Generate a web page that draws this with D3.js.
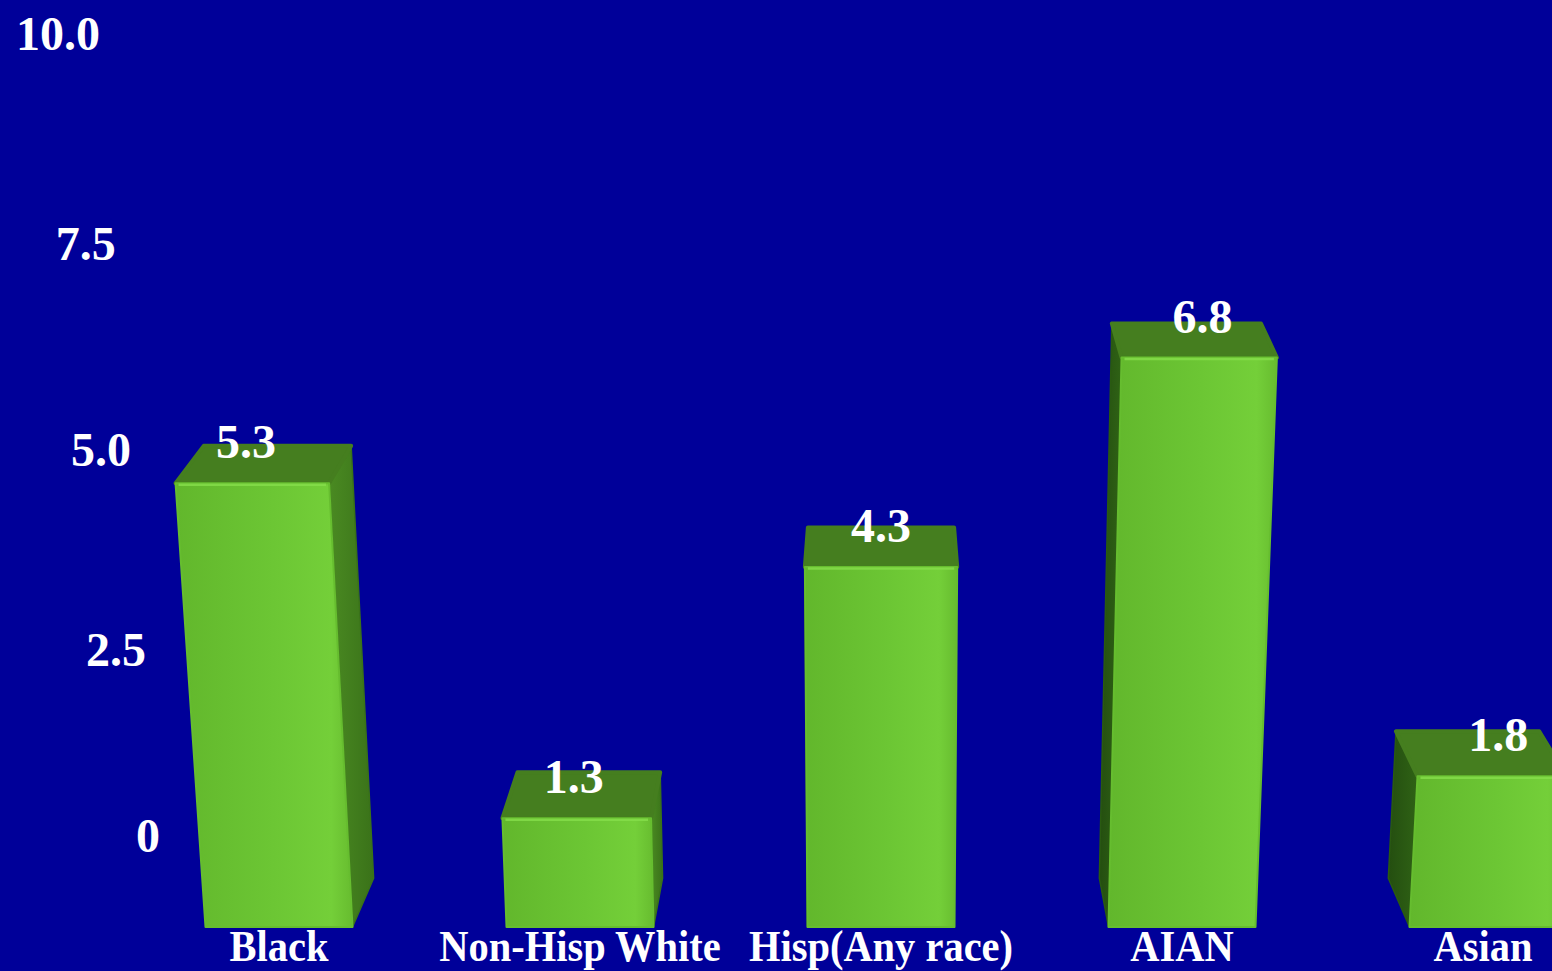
<!DOCTYPE html>
<html>
<head>
<meta charset="utf-8">
<script src="https://cdn.jsdelivr.net/npm/d3@7"></script>
<style>
  html, body { margin: 0; padding: 0; background: #000099; overflow: hidden; }
  svg { display: block; }
  text { font-family: "Liberation Serif", "Times New Roman", serif; font-weight: bold; fill: #ffffff; }
</style>
</head>
<body>
<svg id="chart" width="1552" height="971"></svg>
<script>
// Rates by race / ethnicity
const categories = ["Black", "Non-Hisp White", "Hisp(Any race)", "AIAN", "Asian"];
const values = [5.3, 1.3, 4.3, 6.8, 1.8];
const tickValues = [0, 2.5, 5, 7.5, 10];
const tickLabels = ["0", "2.5", "5.0", "7.5", "10.0"];

const W = 1552, H = 971;
const svg = d3.select("#chart");

svg.append("rect").attr("width", W).attr("height", H).attr("fill", "#000099");

// Horizontal placement of the boxes (ground line positions)
const x = d3.scaleBand()
  .domain(categories)
  .range([128.5, 1633.5])
  .paddingInner(0.5116)
  .paddingOuter(0.2558);

// Bar heights (front face)
const y = d3.scaleLinear().domain([0, 10]).range([927, 89.5]);

// Value axis labels sit on a receding wall, so spacing grows slightly with height
const yAxis = d3.scalePow().exponent(1.055).domain([0, 10]).range([852, 50]);
const axisX = d3.scaleLinear().domain([50, 852]).range([100, 160]);

// Simple camera: verticals converge downward toward vx, depth recedes toward the top/centre
const vx = 880;
const keystone = 0.0001;
const depthX = 0.04, depthY = 0.026, depthY0 = 950;

function project(X, v, z) {
  const sy0 = y(v);
  let sx = vx + (X - vx) * (1 + keystone * (y(0) - sy0));
  let sy = sy0;
  if (z) {
    sx += depthX * (vx - sx);
    sy -= depthY * (sy + depthY0);
  }
  return [sx, sy];
}

const defs = svg.append("defs");
const frontGrad = defs.append("linearGradient").attr("id", "front").attr("x1", "0").attr("x2", "1").attr("y1", "0").attr("y2", "0");
[[0, "#62b72c"], [0.55, "#6cc634"], [0.88, "#74cf39"], [1, "#67bc2f"]].forEach(([o, c]) =>
  frontGrad.append("stop").attr("offset", o).attr("stop-color", c));
const rightGrad = defs.append("linearGradient").attr("id", "sideR").attr("x1", "0").attr("x2", "1").attr("y1", "0").attr("y2", "0");
[[0, "#4a8a22"], [1, "#3a7219"]].forEach(([o, c]) => rightGrad.append("stop").attr("offset", o).attr("stop-color", c));
const leftGrad = defs.append("linearGradient").attr("id", "sideL").attr("x1", "0").attr("x2", "1").attr("y1", "0").attr("y2", "0");
[[0, "#244e10"], [1, "#2f6215"]].forEach(([o, c]) => leftGrad.append("stop").attr("offset", o).attr("stop-color", c));

const line = d3.line();
const bars = svg.append("g").attr("class", "bars");

categories.forEach((cat, i) => {
  const v = values[i];
  const L = x(cat), R = x(cat) + x.bandwidth();
  const g = bars.append("g");

  const fL0 = project(L, 0, 0), fR0 = project(R, 0, 0);
  const fLt = project(L, v, 0), fRt = project(R, v, 0);
  const bL0 = project(L, 0, 1), bR0 = project(R, 0, 1);
  const bLt = project(L, v, 1), bRt = project(R, v, 1);
  const centre = (L + R) / 2;

  // visible side face
  if (centre < vx) {
    g.append("path").attr("d", line([fRt, bRt, bR0, fR0]) + "Z")
      .attr("fill", "url(#sideR)").attr("stroke", "#3a7219").attr("stroke-width", 1.5).attr("stroke-linejoin", "round");
  } else {
    g.append("path").attr("d", line([fLt, bLt, bL0, fL0]) + "Z")
      .attr("fill", "url(#sideL)").attr("stroke", "#2a5a12").attr("stroke-width", 1.5).attr("stroke-linejoin", "round");
  }

  // top face
  g.append("path").attr("d", line([fLt, bLt, bRt, fRt]) + "Z")
    .attr("fill", "#457e1f").attr("stroke", "#457e1f").attr("stroke-width", 4).attr("stroke-linejoin", "round");

  // front face
  g.append("path").attr("d", line([fLt, fRt, fR0, fL0]) + "Z")
    .attr("fill", "url(#front)").attr("stroke", "#66bd2f").attr("stroke-width", 2).attr("stroke-linejoin", "round");

  // light rim along the front top edge
  g.append("path").attr("d", line([[fLt[0] + 3, fLt[1] + 1.5], [fRt[0] - 3, fRt[1] + 1.5]]))
    .attr("stroke", "#86df4b").attr("stroke-width", 2.5).attr("fill", "none").attr("opacity", 0.8);

  // value label
  const cx = project(centre, v, 0)[0];
  g.append("text")
    .attr("x", cx + 0.01 * (cx - vx))
    .attr("y", y(v) - 25)
    .attr("text-anchor", "middle")
    .attr("font-size", 48)
    .text(v.toFixed(1));
});

// value axis labels
const axis = svg.append("g").attr("class", "axis");
tickValues.forEach((t, i) => {
  const ty = yAxis(t);
  axis.append("text")
    .attr("x", axisX(ty))
    .attr("y", ty)
    .attr("text-anchor", "end")
    .attr("font-size", 48)
    .text(tickLabels[i]);
});

// category labels
const cats = svg.append("g").attr("class", "categories");
categories.forEach(cat => {
  cats.append("text")
    .attr("transform", `translate(${x(cat) + x.bandwidth() / 2},961) scale(0.92,1)`)
    .attr("text-anchor", "middle")
    .attr("font-size", 44)
    .text(cat);
});
</script>
</body>
</html>
